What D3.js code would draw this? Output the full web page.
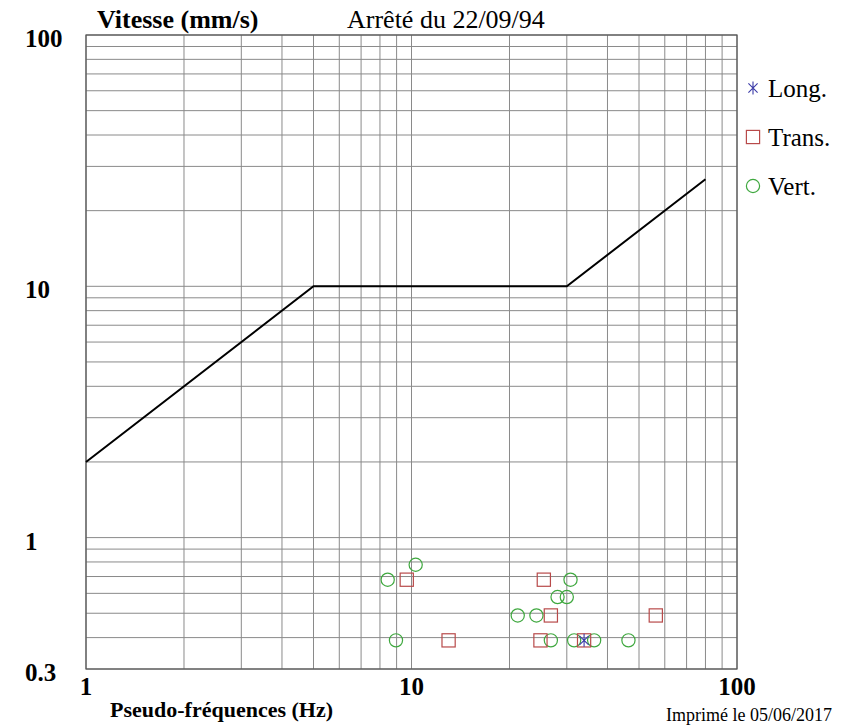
<!DOCTYPE html>
<html lang="fr">
<head>
<meta charset="UTF-8">
<title>Vitesse / Pseudo-fréquences</title>
<script src="https://cdn.jsdelivr.net/npm/d3@7"></script>
<style>
  body { margin: 0; background: #fff; }
</style>
</head>
<body>
<svg id="chart" width="854" height="726" font-family="'Liberation Serif', 'Times New Roman', Tinos, 'DejaVu Serif', serif"></svg>
<script>
// seuil de l'arrêté (courbe limite)
const seuilFreq = [1, 5, 30, 80];
const seuilVit  = [2, 10, 10, 26.67];

// mesures
const longFreq  = [33.9];
const longVit   = [0.39];
const transFreq = [9.67, 25.5, 26.8, 56.3, 13.0, 24.9, 33.9];
const transVit  = [0.68, 0.68, 0.49, 0.49, 0.39, 0.39, 0.39];
const vertFreq  = [10.3, 8.45, 30.8, 28.1, 30.0, 21.2, 24.2, 8.96, 26.8, 31.6, 36.4, 46.4];
const vertVit   = [0.78, 0.68, 0.68, 0.58, 0.58, 0.49, 0.49, 0.39, 0.39, 0.39, 0.39, 0.39];

const xTickLabels = [1, 10, 100];
const yTickLabels = [0.3, 1, 10, 100];
const legendNames = ["Long.", "Trans.", "Vert."];

const svg = d3.select("#chart");
const x = d3.scaleLog().domain([1, 100]).range([86, 737]);
const y = d3.scaleLog().domain([0.3, 100]).range([669, 35]);

// grille
let grid = svg.append("g").attr("stroke", "#8a8a8a").attr("stroke-width", 1);
grid.selectAll(".vg").data(x.ticks()).enter().append("line")
  .attr("x1", d => x(d)).attr("x2", d => x(d))
  .attr("y1", y(100)).attr("y2", y(0.3));
grid.selectAll(".hg").data(y.ticks()).enter().append("line")
  .attr("x1", x(1)).attr("x2", x(100))
  .attr("y1", d => y(d)).attr("y2", d => y(d));

// cadre
svg.append("rect")
  .attr("x", x(1)).attr("y", y(100))
  .attr("width", x(100) - x(1)).attr("height", y(0.3) - y(100))
  .attr("fill", "none").attr("stroke", "#555").attr("stroke-width", 1.2);

// courbe limite
let line = d3.line().x(d => x(d[0])).y(d => y(d[1]));
svg.append("path")
  .datum(d3.zip(seuilFreq, seuilVit))
  .attr("d", line)
  .attr("fill", "none").attr("stroke", "#000").attr("stroke-width", 2);

// symboles
const green = "#3fa83f", red = "#b84a4a", blue = "#3a3aa8";
function circle(g, cx, cy) {
  g.append("circle").attr("cx", cx).attr("cy", cy).attr("r", 6.6)
    .attr("fill", "none").attr("stroke", green).attr("stroke-width", 1.2);
}
function square(g, cx, cy) {
  g.append("rect").attr("x", cx - 6.6).attr("y", cy - 6.6).attr("width", 13.2).attr("height", 13.2)
    .attr("fill", "none").attr("stroke", red).attr("stroke-width", 1.2);
}
function star(g, cx, cy) {
  let s = 6.5, d = 4.6;
  let p = "M" + cx + "," + (cy - s) + "V" + (cy + s) +
          "M" + (cx - d) + "," + (cy - d) + "L" + (cx + d) + "," + (cy + d) +
          "M" + (cx - d) + "," + (cy + d) + "L" + (cx + d) + "," + (cy - d);
  g.append("path").attr("d", p).attr("stroke", blue).attr("stroke-width", 1.1).attr("fill", "none");
}

let pts = svg.append("g");
d3.zip(vertFreq, vertVit).forEach(d => circle(pts, x(d[0]), y(d[1])));
d3.zip(transFreq, transVit).forEach(d => square(pts, x(d[0]), y(d[1])));
d3.zip(longFreq, longVit).forEach(d => star(pts, x(d[0]), y(d[1])));

// légende
const markers = [star, square, circle];
legendNames.forEach(function(name, i) {
  let ly = 88 + i * 49;
  markers[i](svg, 753, ly);
  svg.append("text").attr("x", 768).attr("y", ly + 9)
    .attr("font-size", 25).text(name);
});

// étiquettes des axes
svg.selectAll(".xl").data(xTickLabels).enter().append("text")
  .attr("x", d => x(d)).attr("y", 695)
  .attr("text-anchor", "middle").attr("font-weight", "bold").attr("font-size", 25)
  .text(d => d);
svg.selectAll(".yl").data(yTickLabels).enter().append("text")
  .attr("x", 25).attr("y", d => y(d) + 12)
  .attr("font-weight", "bold").attr("font-size", 25)
  .text(d => d);

// titres
svg.append("text").attr("x", 97).attr("y", 28)
  .attr("font-weight", "bold").attr("font-size", 26).text("Vitesse (mm/s)");
svg.append("text").attr("x", 347).attr("y", 28)
  .attr("font-size", 26).text("Arrêté du 22/09/94");
svg.append("text").attr("x", 110).attr("y", 717)
  .attr("font-weight", "bold").attr("font-size", 22).text("Pseudo-fréquences (Hz)");
svg.append("text").attr("x", 832).attr("y", 721)
  .attr("text-anchor", "end").attr("font-size", 18).text("Imprimé le 05/06/2017");
</script>
</body>
</html>
